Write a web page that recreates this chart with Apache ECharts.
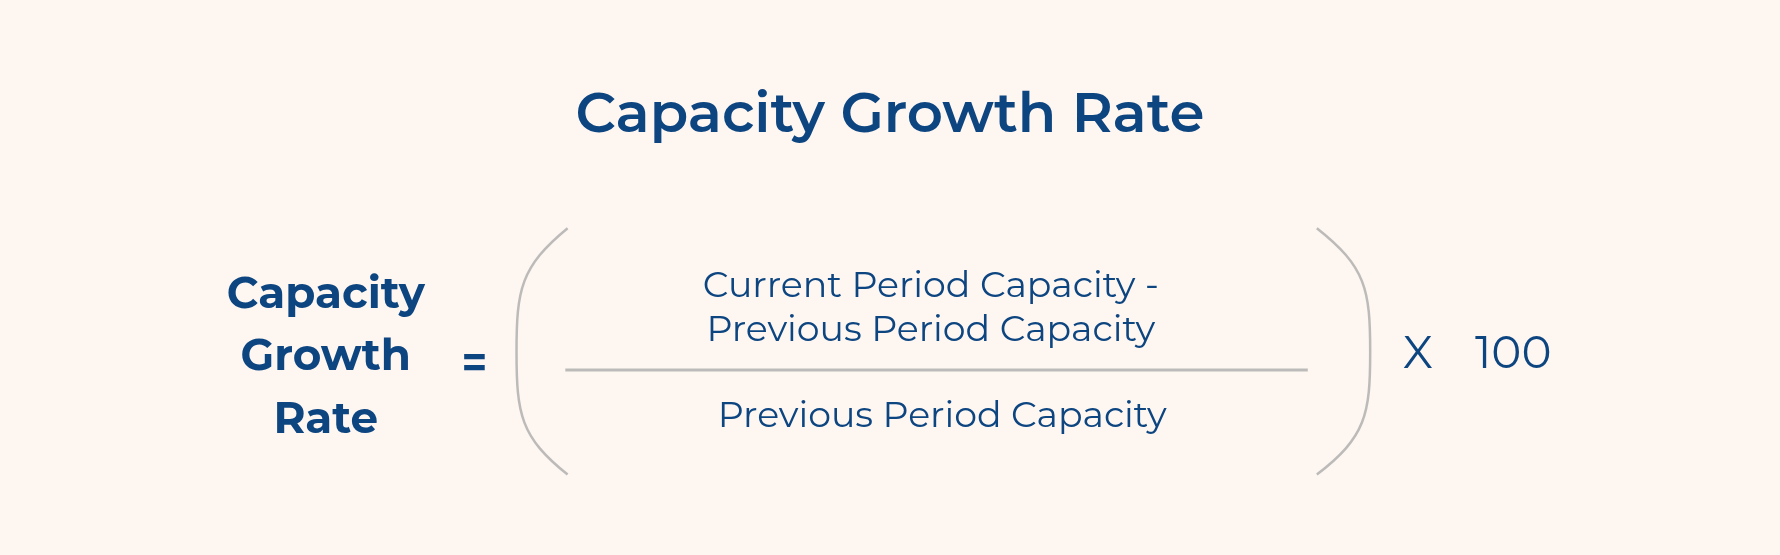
<!DOCTYPE html>
<html><head><meta charset="utf-8">
<script src="https://cdn.jsdelivr.net/npm/echarts@6/dist/echarts.min.js"></script>
<style>html,body{margin:0;padding:0;background:#fdf6f1}#c{width:1780px;height:555px}</style>
</head><body><div id="c"></div>
<script>
var titleText = 'Capacity Growth Rate';
var leftLines = ['Capacity', 'Growth', 'Rate'];
var numeratorLines = ['Current Period Capacity -', 'Previous Period Capacity'];
var denominatorLines = ['Previous Period Capacity'];
var multiplierLabels = ['X', '100'];

var k = 1780 / 1568;
var C = '#0d4580', G = '#bdbbb9', F = 'Montserrat, "Open Sans", "Noto Sans", sans-serif';
function t(x, y, s, size, w) {
  return {type: 'text', x: x * k, y: y * k, style: {text: s, fill: C, font: w + ' ' + (size * k) + 'px ' + F, textAlign: 'center', textVerticalAlign: 'middle'}};
}
var g = [];
g.push(t(784, 102, titleText, 49.5, 600));
leftLines.forEach(function (s, i) { g.push(t(287, 260 + i * 55, s, 38.5, 700)); });
g.push(t(418, 322, '=', 38, 700));
numeratorLines.forEach(function (s, i) { g.push(t(820, 252 + i * 39, s, 32, 400)); });
denominatorLines.forEach(function (s) { g.push(t(830, 367, s, 32, 400)); });
g.push(t(1249, 312, multiplierLabels[0], 40, 400));
g.push(t(1333, 312, multiplierLabels[1], 40, 400));
g.push({type: 'line', shape: {x1: 498 * k, y1: 326 * k, x2: 1152 * k, y2: 326 * k}, style: {stroke: G, lineWidth: 3}});
function paren(x0, xm) {
  var d = x0 - xm;
  return {type: 'bezierCurve', shape: {x1: x0 * k, y1: 201 * k, cpx1: (xm + d * 0.08) * k, cpy1: 235 * k, cpx2: xm * k, cpy2: 255 * k, x2: xm * k, y2: 310 * k}, style: {stroke: G, lineWidth: 2.5, fill: null}};
}
function paren2(x0, xm) {
  var d = x0 - xm;
  return {type: 'bezierCurve', shape: {x1: xm * k, y1: 310 * k, cpx1: xm * k, cpy1: 365 * k, cpx2: (xm + d * 0.08) * k, cpy2: 385 * k, x2: x0 * k, y2: 418 * k}, style: {stroke: G, lineWidth: 2.5, fill: null}};
}
g.push(paren(500, 455), paren2(500, 455), paren(1160, 1207), paren2(1160, 1207));
var chart = echarts.init(document.getElementById('c'));
chart.setOption({backgroundColor: '#fdf6f1', graphic: g});
</script></body></html>
